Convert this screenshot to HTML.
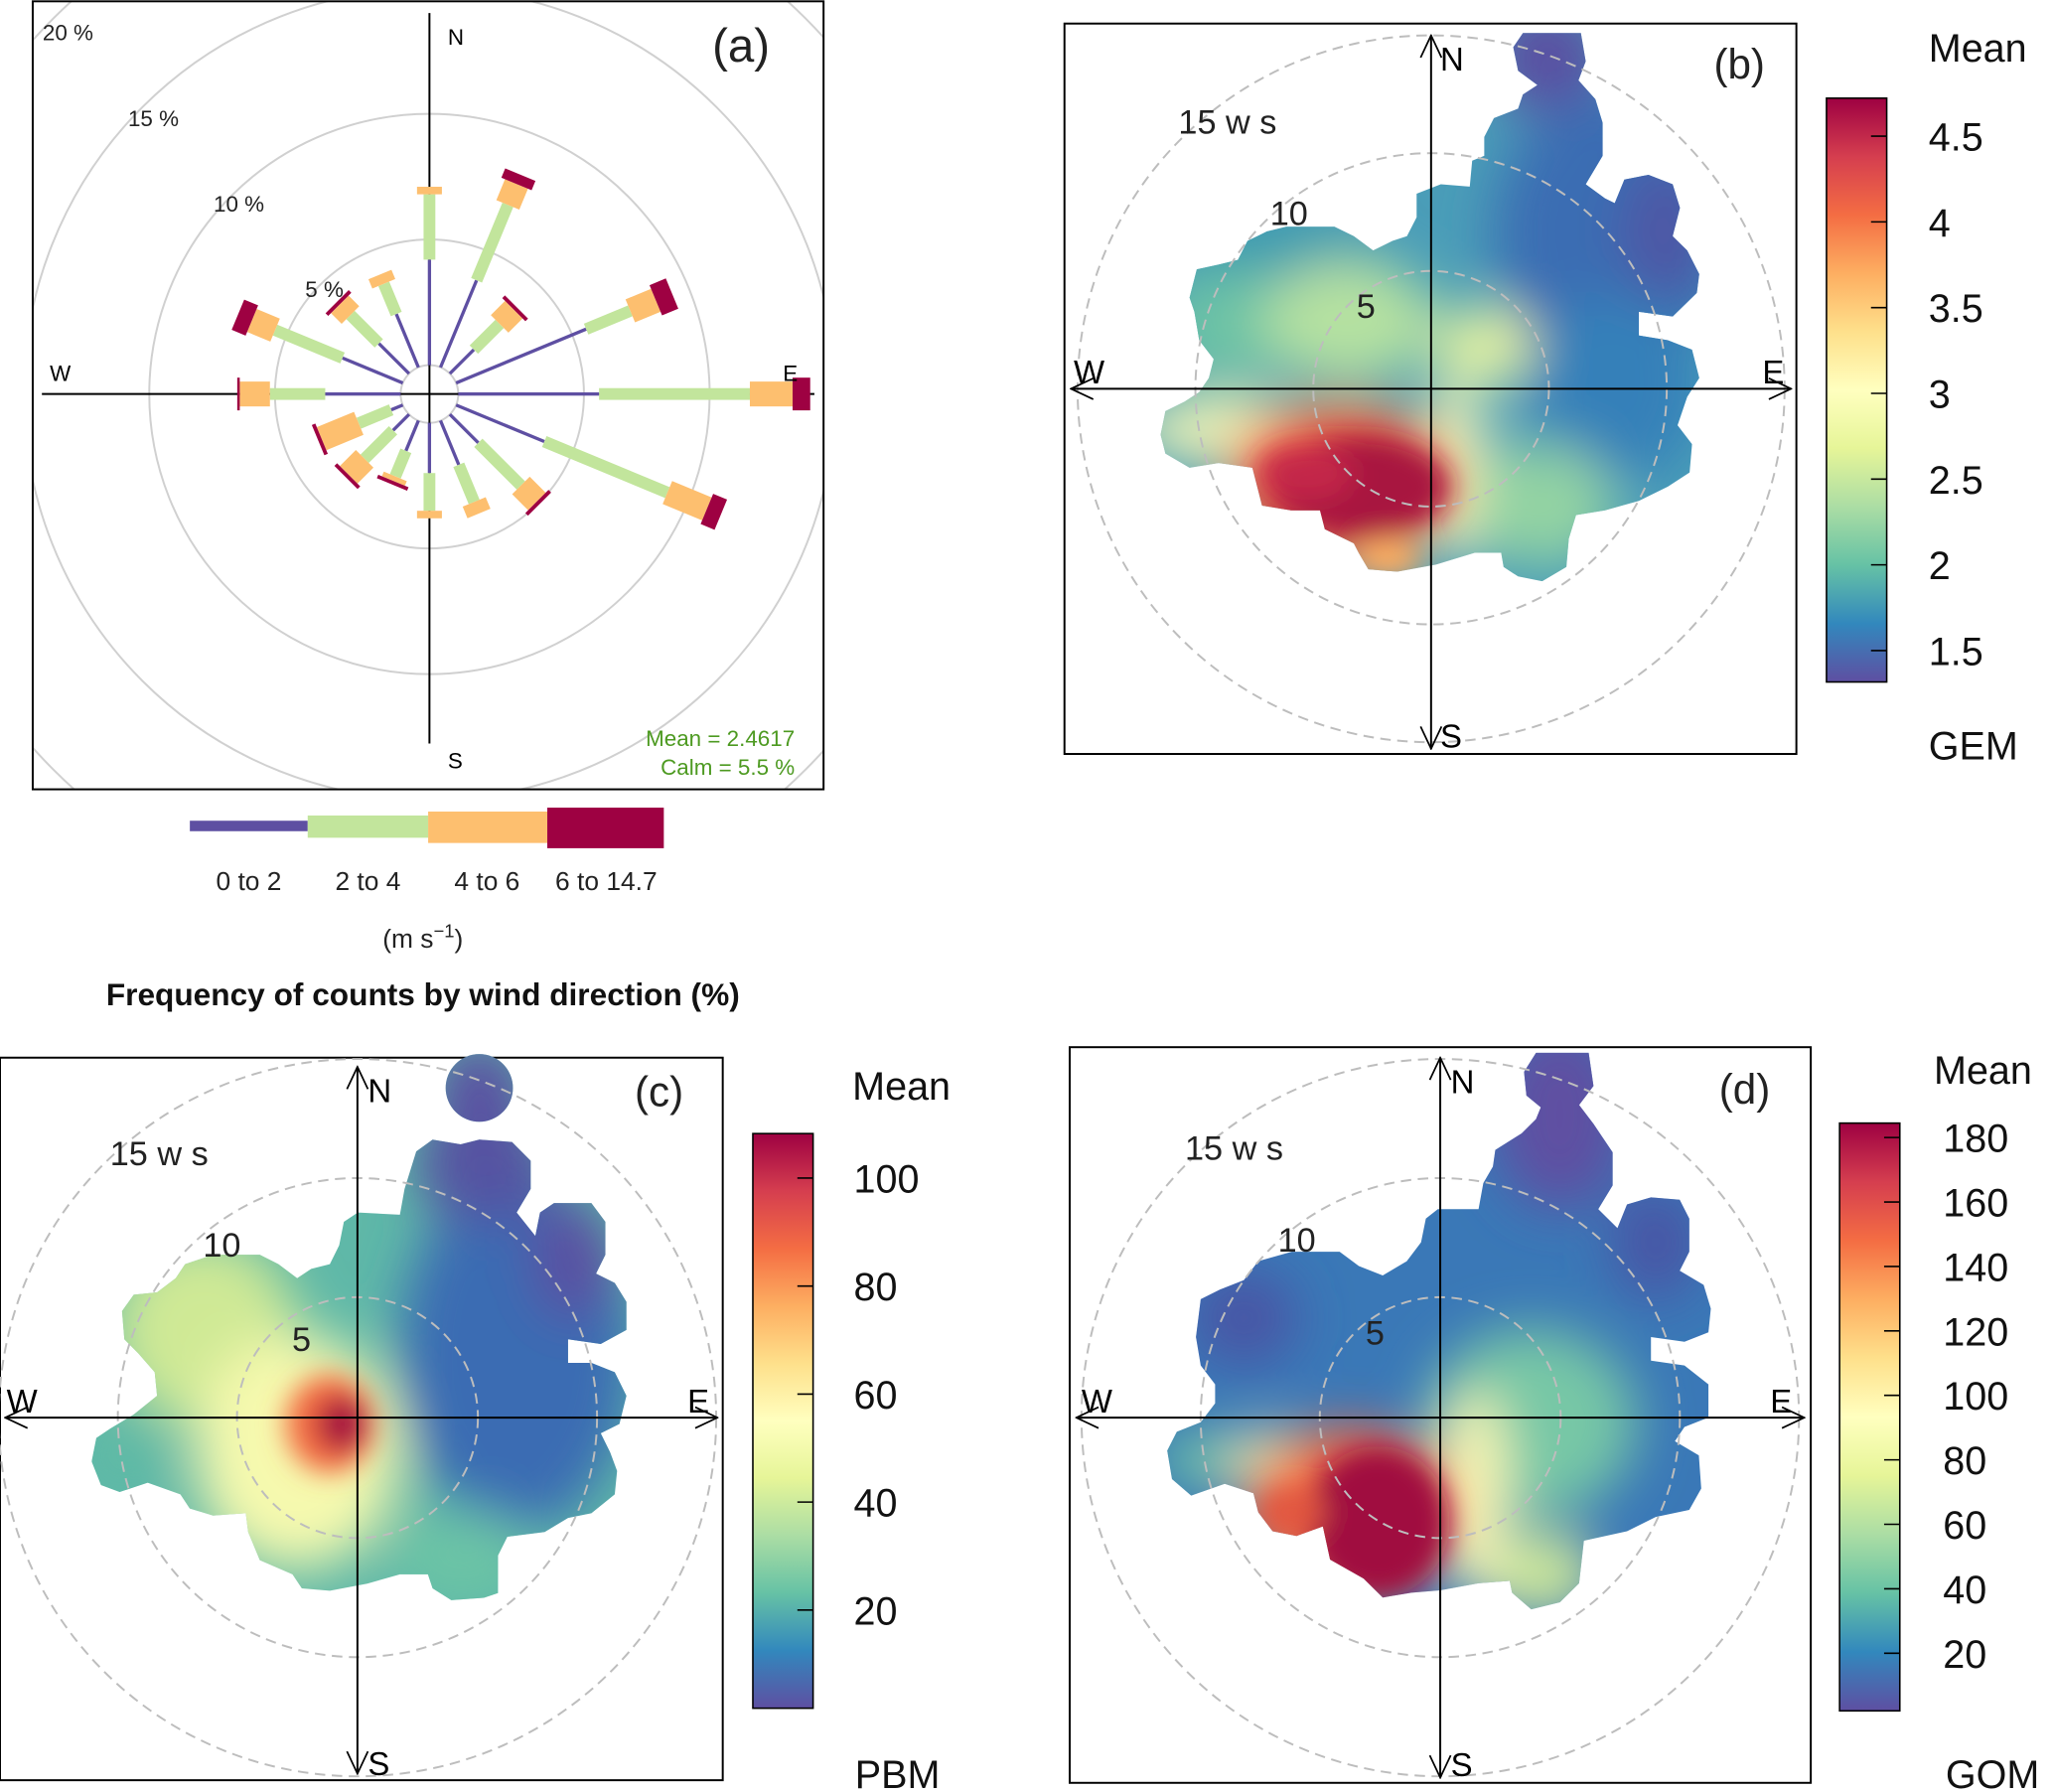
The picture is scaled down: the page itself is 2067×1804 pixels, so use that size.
<!DOCTYPE html>
<html><head><meta charset="utf-8"><style>
html,body{margin:0;padding:0;background:#fff;}
svg{display:block;font-family:"Liberation Sans","DejaVu Sans",sans-serif;}
</style></head><body>
<svg id="root" width="2067" height="1804" viewBox="0 0 1568 1369" preserveAspectRatio="none" xmlns="http://www.w3.org/2000/svg">
<defs>
<linearGradient id="spec" x1="0" y1="0" x2="0" y2="1">
<stop offset="0" stop-color="#9e0142"/><stop offset="0.1" stop-color="#d53e4f"/><stop offset="0.2" stop-color="#f46d43"/><stop offset="0.3" stop-color="#fdae61"/><stop offset="0.4" stop-color="#fee08b"/><stop offset="0.5" stop-color="#ffffbf"/><stop offset="0.6" stop-color="#e6f598"/><stop offset="0.7" stop-color="#abdda4"/><stop offset="0.8" stop-color="#66c2a5"/><stop offset="0.9" stop-color="#3288bd"/><stop offset="1" stop-color="#5e4fa2"/>
</linearGradient>
<filter id="blur" x="-50%" y="-50%" width="200%" height="200%"><feGaussianBlur stdDeviation="55"/></filter>
<filter id="blur2" x="-50%" y="-50%" width="200%" height="200%"><feGaussianBlur stdDeviation="28"/></filter>
<clipPath id="clipA"><rect x="25" y="1" width="604" height="602"/></clipPath>
<clipPath id="clipB">
<polygon transform="matrix(0.369 0 0 0.361 808.9 14.4)" points="740,370 790,350 850,355 855,300 880,290 880,250 900,210 950,190 960,160 990,140 950,110 940,60 960,30 1080,30 1090,90 1075,130 1110,170 1125,220 1125,290 1090,350 1130,380 1150,390 1170,340 1220,330 1270,350 1285,400 1270,460 1300,490 1325,540 1320,580 1270,630 1200,620 1200,670 1260,680 1310,700 1325,760 1300,800 1280,860 1310,900 1305,960 1260,990 1200,1020 1130,1040 1070,1050 1055,1100 1050,1160 1000,1190 950,1180 920,1160 915,1130 860,1130 780,1155 700,1170 640,1165 620,1130 610,1110 550,1080 540,1040 480,1040 420,1030 410,990 400,950 330,940 270,950 220,920 210,880 220,830 260,810 290,790 310,760 320,720 290,680 280,620 270,590 285,530 330,520 370,510 390,470 430,450 470,440 570,440 610,460 650,490 690,470 720,460 740,420"/>
</clipPath>
<clipPath id="clipC">
<polygon transform="matrix(0.3567 0 0 0.359 -4.9 800.6)" points="750,370 780,350 870,355 880,300 905,220 940,195 1000,205 1040,195 1110,200 1150,240 1150,300 1120,350 1160,400 1170,350 1200,330 1280,330 1310,370 1310,440 1290,480 1330,500 1355,540 1355,600 1300,630 1230,620 1230,670 1280,670 1330,690 1355,740 1340,800 1300,820 1320,860 1335,900 1330,950 1280,990 1230,1000 1180,1030 1100,1040 1080,1080 1080,1160 1050,1170 980,1175 940,1150 930,1120 870,1120 800,1140 720,1155 660,1150 640,1120 570,1090 545,1030 540,990 470,995 420,980 400,950 330,925 270,945 230,930 210,880 220,830 250,810 300,780 350,740 345,690 310,650 280,620 275,560 300,525 350,520 390,490 410,460 470,440 570,440 610,460 650,490 680,470 720,460 740,420"/>
<circle transform="matrix(0.3567 0 0 0.359 -4.9 800.6)" cx="1040" cy="85" r="72"/>
</clipPath>
<clipPath id="clipD">
<polygon transform="matrix(0.3658 0 0 0.3618 811 797.1)" points="760,370 785,350 870,350 880,295 900,260 905,225 960,190 990,160 1000,135 970,110 965,60 990,20 1100,20 1110,90 1080,130 1110,170 1150,230 1150,300 1120,350 1160,390 1180,340 1230,325 1290,330 1310,370 1310,440 1290,480 1340,510 1355,560 1350,610 1300,630 1230,620 1230,670 1300,680 1350,720 1350,790 1300,810 1280,840 1330,870 1335,940 1310,985 1240,1000 1180,1030 1090,1050 1080,1140 1040,1180 980,1195 940,1160 935,1135 870,1140 790,1155 730,1160 670,1170 630,1130 560,1090 545,1020 490,1040 440,1030 410,990 400,950 340,930 270,955 230,920 220,860 240,820 290,800 320,760 320,720 290,680 280,620 290,540 330,520 380,500 410,460 480,440 580,440 620,470 670,490 720,460 750,420"/>
</clipPath>
<marker id="arr" viewBox="0 0 20 20" refX="19" refY="10" markerWidth="20" markerHeight="20" markerUnits="userSpaceOnUse" orient="auto"><path d="M2,2 L19,10 L2,18" fill="none" stroke="#000" stroke-width="1.3"/></marker>
</defs>

<!-- Panel A: wind rose -->
<g>
<rect x="25" y="1" width="604" height="602" fill="#fff"/>
<g id="roseRings" clip-path="url(#clipA)"></g>
<line x1="328" y1="10" x2="328" y2="568" stroke="#000" stroke-width="1.5"/>
<line x1="32" y1="301" x2="622" y2="301" stroke="#000" stroke-width="1.5"/>
<g id="roseBars"></g>
<rect x="25" y="1" width="604" height="602" fill="none" stroke="#000" stroke-width="1.5"/>
<text x="342" y="34" font-size="17">N</text>
<text x="342" y="587" font-size="17">S</text>
<text x="38" y="291" font-size="17">W</text>
<text x="598" y="291" font-size="17">E</text>
<text x="588" y="47" font-size="36" text-anchor="end" fill="#222">(a)</text>
<text x="607" y="570" font-size="17" text-anchor="end" fill="#4d9a21">Mean = 2.4617</text>
<text x="607" y="592" font-size="17" text-anchor="end" fill="#4d9a21">Calm = 5.5 %</text>
<g>
<rect x="145" y="627" width="90" height="8" fill="#5e4fa2"/>
<rect x="235" y="623" width="92" height="17" fill="#c2e59c"/>
<rect x="327" y="620" width="91" height="24" fill="#fdbf6f"/>
<rect x="418" y="617" width="89" height="31" fill="#9e0142"/>
<text x="190" y="680" font-size="20" text-anchor="middle" fill="#222">0 to 2</text>
<text x="281" y="680" font-size="20" text-anchor="middle" fill="#222">2 to 4</text>
<text x="372" y="680" font-size="20" text-anchor="middle" fill="#222">4 to 6</text>
<text x="463" y="680" font-size="20" text-anchor="middle" fill="#222">6 to 14.7</text>
<text x="323" y="724" font-size="20" text-anchor="middle" fill="#222">(m s<tspan dy="-8" font-size="14">−1</tspan><tspan dy="8">)</tspan></text>
</g>
<text x="323" y="768" font-size="24" font-weight="bold" text-anchor="middle" fill="#111">Frequency of counts by wind direction (%)</text>
</g>

<!-- Panel B -->
<g>
<rect x="813" y="18" width="559" height="558" fill="#fff" stroke="#000" stroke-width="1.5"/>
<g clip-path="url(#clipB)">
<g transform="matrix(0.369 0 0 0.361 808.9 14.4)">
<rect x="0" y="0" width="1520" height="1520" fill="#4a9db8"/>
<g filter="url(#blur)">
<ellipse cx="1010" cy="80" rx="120" ry="120" fill="#5a4fa2"/>
<ellipse cx="1150" cy="450" rx="250" ry="300" fill="#3a6db3"/>
<ellipse cx="1150" cy="780" rx="180" ry="200" fill="#3680b9"/>
<ellipse cx="1250" cy="450" rx="80" ry="150" fill="#4f55a4"/>
<ellipse cx="450" cy="500" rx="200" ry="100" fill="#3d9bb0"/>
<ellipse cx="350" cy="650" rx="150" ry="120" fill="#6cc2a6"/>
<ellipse cx="600" cy="640" rx="180" ry="130" fill="#b5e1a0"/>
<ellipse cx="880" cy="690" rx="100" ry="80" fill="#e9f5a0"/>
<ellipse cx="350" cy="870" rx="200" ry="70" fill="#f5f7b5"/>
<ellipse cx="820" cy="950" rx="60" ry="200" fill="#fafab8"/>
<ellipse cx="1000" cy="1030" rx="150" ry="130" fill="#93d3a3"/>
<ellipse cx="580" cy="980" rx="230" ry="170" fill="#f46d43"/>
</g>
<g filter="url(#blur2)">
<ellipse cx="620" cy="990" rx="190" ry="110" fill="#a8123f"/>
<ellipse cx="510" cy="960" rx="100" ry="60" fill="#c42848"/>
<ellipse cx="680" cy="1140" rx="70" ry="40" fill="#fdae61"/>
</g>
</g>
</g>
<g fill="none" stroke="#bdbdbd" stroke-width="1.5" stroke-dasharray="8,5">
<circle cx="1093" cy="297" r="90"/><circle cx="1093" cy="297" r="180"/><circle cx="1093" cy="297" r="270"/>
</g>
<line x1="1093" y1="297" x2="1093" y2="27" stroke="#000" stroke-width="1.5" marker-end="url(#arr)"/>
<line x1="1093" y1="297" x2="1093" y2="572" stroke="#000" stroke-width="1.5" marker-end="url(#arr)"/>
<line x1="1093" y1="297" x2="818" y2="297" stroke="#000" stroke-width="1.5" marker-end="url(#arr)"/>
<line x1="1093" y1="297" x2="1368" y2="297" stroke="#000" stroke-width="1.5" marker-end="url(#arr)"/>
<text x="1100" y="54" font-size="25">N</text>
<text x="1100" y="571" font-size="25">S</text>
<text x="820" y="293" font-size="25">W</text>
<text x="1346" y="293" font-size="25">E</text>
<text x="900" y="102" font-size="26" fill="#222">15 w s</text>
<text x="970" y="172" font-size="26" fill="#222">10</text>
<text x="1036" y="243" font-size="26" fill="#222">5</text>
<text x="1348" y="60" font-size="32" text-anchor="end" fill="#222">(b)</text>
</g>
<g>
<rect x="1395" y="75" width="46" height="446" fill="url(#spec)" stroke="#000" stroke-width="1.2"/>
<text x="1473" y="47" font-size="30" fill="#111">Mean</text>
<text x="1473" y="580" font-size="30" fill="#111">GEM</text>
<g id="cbB"></g>
</g>

<!-- Panel C -->
<g>
<rect x="0" y="808" width="552" height="552" fill="#fff" stroke="#000" stroke-width="1.5"/>
<g clip-path="url(#clipC)">
<g transform="matrix(0.3567 0 0 0.359 -4.9 800.6)">
<rect x="0" y="0" width="1560" height="1560" fill="#5fb8a8"/>
<g filter="url(#blur)">
<ellipse cx="450" cy="600" rx="200" ry="200" fill="#cfe995"/>
<ellipse cx="280" cy="870" rx="100" ry="80" fill="#5fbaa6"/>
<ellipse cx="1120" cy="650" rx="250" ry="380" fill="#3b6cb3"/>
<ellipse cx="1050" cy="250" rx="150" ry="120" fill="#5552a2"/>
<ellipse cx="1240" cy="450" rx="90" ry="130" fill="#5a4fa2"/>
<ellipse cx="1040" cy="85" rx="100" ry="100" fill="#5a4fa2"/>
<ellipse cx="650" cy="860" rx="220" ry="250" fill="#f6f9ae"/>
<ellipse cx="1000" cy="1080" rx="150" ry="100" fill="#6cc4a6"/>
</g>
<g filter="url(#blur2)">
<ellipse cx="720" cy="800" rx="95" ry="105" fill="#f46d43"/>
<ellipse cx="745" cy="800" rx="55" ry="60" fill="#a50f3f"/>
</g>
</g>
</g>
<g fill="none" stroke="#bdbdbd" stroke-width="1.5" stroke-dasharray="8,5">
<circle cx="273" cy="1083" r="92"/><circle cx="273" cy="1083" r="183"/><circle cx="273" cy="1083" r="274"/>
</g>
<line x1="273" y1="1083" x2="273" y2="815" stroke="#000" stroke-width="1.5" marker-end="url(#arr)"/>
<line x1="273" y1="1083" x2="273" y2="1355" stroke="#000" stroke-width="1.5" marker-end="url(#arr)"/>
<line x1="273" y1="1083" x2="4" y2="1083" stroke="#000" stroke-width="1.5" marker-end="url(#arr)"/>
<line x1="273" y1="1083" x2="548" y2="1083" stroke="#000" stroke-width="1.5" marker-end="url(#arr)"/>
<text x="281" y="842" font-size="25">N</text>
<text x="281" y="1356" font-size="25">S</text>
<text x="5" y="1079" font-size="25">W</text>
<text x="525" y="1079" font-size="25">E</text>
<text x="84" y="890" font-size="26" fill="#222">15 w s</text>
<text x="155" y="960" font-size="26" fill="#222">10</text>
<text x="223" y="1032" font-size="26" fill="#222">5</text>
<text x="522" y="845" font-size="32" text-anchor="end" fill="#222">(c)</text>
</g>
<g>
<rect x="575" y="866" width="46" height="439" fill="url(#spec)" stroke="#000" stroke-width="1.2"/>
<text x="651" y="840" font-size="30" fill="#111">Mean</text>
<text x="653" y="1366" font-size="30" fill="#111">PBM</text>
<g id="cbC"></g>
</g>

<!-- Panel D -->
<g>
<rect x="817" y="800" width="566" height="562" fill="#fff" stroke="#000" stroke-width="1.5"/>
<g clip-path="url(#clipD)">
<g transform="matrix(0.3658 0 0 0.3618 811 797.1)">
<rect x="0" y="0" width="1560" height="1560" fill="#3a78b7"/>
<g filter="url(#blur)">
<ellipse cx="1040" cy="150" rx="140" ry="200" fill="#5e4fa2"/>
<ellipse cx="1240" cy="420" rx="90" ry="120" fill="#4a55a5"/>
<ellipse cx="380" cy="580" rx="110" ry="100" fill="#4a55a5"/>
<ellipse cx="980" cy="800" rx="220" ry="200" fill="#77c7a6"/>
<ellipse cx="1000" cy="1120" rx="120" ry="90" fill="#cfe99a"/>
<ellipse cx="860" cy="950" rx="70" ry="220" fill="#fbf8b5"/>
<ellipse cx="450" cy="880" rx="130" ry="60" fill="#f2f6b0"/>
<ellipse cx="280" cy="880" rx="80" ry="60" fill="#6cc3a6"/>
<ellipse cx="600" cy="980" rx="210" ry="170" fill="#f46d43"/>
</g>
<g filter="url(#blur2)">
<ellipse cx="660" cy="1010" rx="150" ry="160" fill="#a00f3f"/>
<ellipse cx="480" cy="990" rx="70" ry="50" fill="#e2573f"/>
</g>
</g>
</g>
<g fill="none" stroke="#bdbdbd" stroke-width="1.5" stroke-dasharray="8,5">
<circle cx="1100" cy="1083" r="92"/><circle cx="1100" cy="1083" r="183"/><circle cx="1100" cy="1083" r="274"/>
</g>
<line x1="1100" y1="1083" x2="1100" y2="808" stroke="#000" stroke-width="1.5" marker-end="url(#arr)"/>
<line x1="1100" y1="1083" x2="1100" y2="1358" stroke="#000" stroke-width="1.5" marker-end="url(#arr)"/>
<line x1="1100" y1="1083" x2="822" y2="1083" stroke="#000" stroke-width="1.5" marker-end="url(#arr)"/>
<line x1="1100" y1="1083" x2="1378" y2="1083" stroke="#000" stroke-width="1.5" marker-end="url(#arr)"/>
<text x="1108" y="835" font-size="25">N</text>
<text x="1108" y="1357" font-size="25">S</text>
<text x="826" y="1079" font-size="25">W</text>
<text x="1352" y="1079" font-size="25">E</text>
<text x="905" y="886" font-size="26" fill="#222">15 w s</text>
<text x="976" y="956" font-size="26" fill="#222">10</text>
<text x="1043" y="1027" font-size="26" fill="#222">5</text>
<text x="1352" y="843" font-size="32" text-anchor="end" fill="#222">(d)</text>
</g>
<g>
<rect x="1405" y="858" width="46" height="449" fill="url(#spec)" stroke="#000" stroke-width="1.2"/>
<text x="1477" y="828" font-size="30" fill="#111">Mean</text>
<text x="1486" y="1366" font-size="30" fill="#111">GOM</text>
<g id="cbD"></g>
</g>
</svg>
<script>
const NS = "http://www.w3.org/2000/svg";
// Wind rose data: direction (deg) and frequency (%) per speed band
const directions = [0,22.5,45,67.5,90,112.5,135,157.5,180,202.5,225,247.5,270,292.5,315,337.5];
const band0to2 = [4.2,3.75,1.35,5.6,5.6,3.8,1.6,1.9,2.0,1.3,0.9,0.5,3.0,2.6,1.7,2.3];
const band2to4 = [2.6,3.25,1.45,1.9,6.0,5.3,2.4,1.6,1.5,1.1,1.6,1.4,2.2,2.9,1.6,1.3];
const band4to6 = [0.3,0.9,0.8,1.1,1.7,1.7,0.9,0.5,0.3,0.2,0.9,1.6,1.2,1.0,0.6,0.4];
const band6to147 = [0,0.4,0.15,0.7,0.7,0.6,0.15,0,0,0.15,0.15,0.15,0.1,0.6,0.15,0];
const ringPcts = [5,10,15,20];
const ringLabels = ["5 %","10 %","15 %","20 %"];
// Colorbar ticks
const gemTicks = [1.5,2,2.5,3,3.5,4,4.5];
const pbmTicks = [20,40,60,80,100];
const gomTicks = [20,40,60,80,100,120,140,160,180];

const cx = 328, cy = 301, r0 = 22, k = 19.2;
function rScale(p){ return r0 + k*p; }
const bandColors = ["#5e4fa2","#c2e59c","#fdbf6f","#9e0142"];
const bandWidths = [2.5,9,19,25];

const rings = document.getElementById('roseRings');
const c0 = document.createElementNS(NS,'circle');
c0.setAttribute('cx',cx); c0.setAttribute('cy',cy); c0.setAttribute('r',r0);
c0.setAttribute('fill','none'); c0.setAttribute('stroke','#d0d0d0'); c0.setAttribute('stroke-width','1.5');


rings.appendChild(c0);
ringPcts.forEach((p,i)=>{
  const c = document.createElementNS(NS,'circle');
  c.setAttribute('cx',cx); c.setAttribute('cy',cy); c.setAttribute('r',rScale(p));
  c.setAttribute('fill','none'); c.setAttribute('stroke','#d0d0d0'); c.setAttribute('stroke-width','1.5');
  
  
  rings.appendChild(c);
  const t = document.createElementNS(NS,'text');
  const rr = rScale(p);
  t.setAttribute('x', cx - rr*0.68); t.setAttribute('y', cy - rr*0.68 + 6);
  t.setAttribute('font-size','17'); t.setAttribute('fill','#222'); t.setAttribute('text-anchor','middle');
  t.textContent = ringLabels[i];
  
  
  rings.appendChild(t);
});

const bars = document.getElementById('roseBars');
const bands = [band0to2, band2to4, band4to6, band6to147];
directions.forEach((d,i)=>{
  let cum = 0;
  bands.forEach((b,j)=>{
    const v = b[i];
    if (v <= 0) { return; }
    const rs = rScale(cum), re = rScale(cum+v);
    cum += v;
    const rect = document.createElementNS(NS,'rect');
    const w = bandWidths[j];
    rect.setAttribute('x', cx - w/2); rect.setAttribute('y', cy - re);
    rect.setAttribute('width', w); rect.setAttribute('height', re - rs);
    rect.setAttribute('fill', bandColors[j]);
    rect.setAttribute('transform', 'rotate(' + d + ' ' + cx + ' ' + cy + ')');
    
    
    bars.appendChild(rect);
  });
});

function colorbar(id, ticks, lo, hi, xBar, xLab, tickPosTop, tickPosBot){
  const g = document.getElementById(id);
  ticks.forEach(t=>{
    const y = tickPosTop + (hi - t)/(hi - lo)*(tickPosBot - tickPosTop);
    const l = document.createElementNS(NS,'line');
    l.setAttribute('x1', xBar+34); l.setAttribute('x2', xBar+46);
    l.setAttribute('y1', y); l.setAttribute('y2', y);
    l.setAttribute('stroke','#000'); l.setAttribute('stroke-width','1.2');
    
    
    g.appendChild(l);
    const tx = document.createElementNS(NS,'text');
    tx.setAttribute('x', xLab); tx.setAttribute('y', y+11);
    tx.setAttribute('font-size','30'); tx.setAttribute('fill','#111');
    tx.textContent = String(t);
    
    
    g.appendChild(tx);
  });
}
colorbar('cbB', gemTicks, 1.5, 4.5, 1395, 1473, 104, 497);
colorbar('cbC', pbmTicks, 20, 100, 575, 652, 900, 1230);
colorbar('cbD', gomTicks, 20, 180, 1405, 1484, 869, 1263);
</script>
</body></html>
